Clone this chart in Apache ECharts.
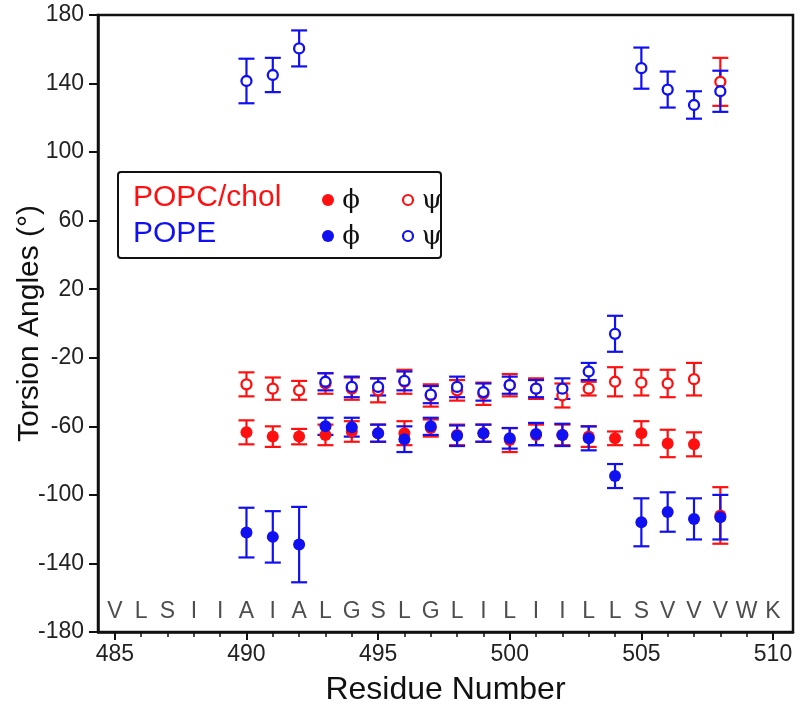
<!DOCTYPE html>
<html>
<head>
<meta charset="utf-8">
<script src="https://cdn.jsdelivr.net/npm/echarts@6/dist/echarts.min.js"></script>
<style>html,body{margin:0;padding:0;background:#fff;}#chart{width:800px;height:715px;}</style>
</head>
<body>
<div id="chart"></div>
<script>
// ---- data ----
var residues = [490,491,492,493,494,495,496,497,498,499,500,501,502,503,504,505,506,507,508];
var popcPhi    = [-63.5,-66,-66,-65,-63,-64,-64,-61,-65,-64,-68,-65,-65,-66,-67,-64,-70,-70.5,-112];
var popcPhiErr = [7,6,4.5,6,6,5,7,5,6,5,7,6,6,6,4,7,8,7,16.5];
var popcPsi    = [-35.5,-38,-39,-35,-38,-39,-34,-42,-39,-41,-36,-38,-42,-38,-34,-34.5,-35,-32.5,141];
var popcPsiErr = [7,6.5,5.5,6,6.5,7,7,6.5,6,6.5,6.5,6,7,4,8.5,7.5,8,9.5,14];
var popePhi    = [-122,-124.5,-129,-60,-60.5,-64,-67.5,-60,-65.5,-64,-67,-64.5,-65,-67,-89,-116,-110,-114,-113];
var popePhiErr = [14.5,15,22,5,5.5,5,7.5,5,6,5,6,6.5,6.5,7,7,14,11.5,12,13];
var popePsi    = [141.5,145,160.5,-34,-37,-37,-33.5,-41.5,-37,-40,-36,-38,-38,-28,-6,149,136.5,127.5,135.5];
var popePsiErr = [13,10,10.5,5,6,5,5.5,5,6,5,5,5,6,5,10.5,12,10.5,8,12];
var seqStart = 485;
var sequence = ['V','L','S','I','I','A','I','A','L','G','S','L','G','L','I','L','I','I','L','L','S','V','V','V','W','K'];
var seqY = -168;
var xTicks = [485,490,495,500,505,510];
var xMinorTicks = [];
for (var t = 485; t <= 510; t++) xMinorTicks.push(t);

var RED = '#ff1010';
var BLUE = '#1010f0';

function pts(vals){ return residues.map(function(r,i){ return [r, vals[i]]; }); }
function errs(vals, e){ return residues.map(function(r,i){ return [r, vals[i]-e[i], vals[i]+e[i]]; }); }

function errSeries(data, color){
  return {
    type: 'custom', xAxisIndex: 0, yAxisIndex: 0, data: data, silent: true,
    renderItem: function(params, api){
      var x = api.value(0), lo = api.value(1), hi = api.value(2);
      var p1 = api.coord([x, lo]), p2 = api.coord([x, hi]);
      var hw = 8;
      var st = {stroke: color, lineWidth: 2.2};
      return {type: 'group', children: [
        {type:'line', shape:{x1:p1[0],y1:p1[1],x2:p2[0],y2:p2[1]}, style: st},
        {type:'line', shape:{x1:p1[0]-hw,y1:p1[1],x2:p1[0]+hw,y2:p1[1]}, style: st},
        {type:'line', shape:{x1:p2[0]-hw,y1:p2[1],x2:p2[0]+hw,y2:p2[1]}, style: st}
      ]};
    },
    z: 2
  };
}
function filled(data, color){
  return {type:'scatter', data:data, symbol:'circle', symbolSize:12, itemStyle:{color:color, opacity:1}, z:3, silent:true};
}
function open(data, color){
  return {type:'scatter', data:data, symbol:'circle', symbolSize:10, itemStyle:{color:'#fff', borderColor:color, borderWidth:2.3, opacity:1}, z:3, silent:true};
}

var seqData = sequence.map(function(s,i){ return [seqStart+i, seqY, s]; });

var chart = echarts.init(document.getElementById('chart'));
chart.setOption({
  animation: false,
  backgroundColor: '#fff',
  grid: {left: 98, top: 15, width: 695, height: 617, show: true, borderColor: '#111', borderWidth: 2.5,
         backgroundColor: 'transparent', containLabel: false, outerBoundsMode: 'none'},
  xAxis: [{
    type: 'value', min: 484.36, max: 510.76, position: 'bottom',
    axisLine: {show: true, onZero: false, lineStyle: {color: '#111', width: 2.5}},
    axisTick: {show: true, customValues: xTicks, length: 8, lineStyle: {color: '#111', width: 2}},
    axisLabel: {show: true, customValues: xTicks, fontSize: 23, color: '#222', margin: 11, fontFamily: 'Liberation Sans'},
    splitLine: {show: false},
    name: 'Residue Number', nameLocation: 'middle', nameGap: 42, nameMoveOverlap: false,
    nameTextStyle: {fontSize: 32, color: '#111', fontFamily: 'Liberation Sans'}
  },{
    type: 'value', min: 484.36, max: 510.76, position: 'bottom',
    axisLine: {show: false, onZero: false},
    axisTick: {show: true, customValues: xMinorTicks, length: 5, lineStyle: {color: '#111', width: 1.5}},
    axisLabel: {show: false},
    splitLine: {show: false}
  }],
  yAxis: {
    type: 'value', min: -180, max: 180, interval: 40,
    axisLine: {show: true, onZero: false, lineStyle: {color: '#111', width: 2.5}},
    axisTick: {show: true, length: 9, lineStyle: {color: '#111', width: 2}},
    axisLabel: {fontSize: 23, color: '#222', margin: 14, fontFamily: 'Liberation Sans'},
    splitLine: {show: false},
    name: 'Torsion Angles (°)', nameLocation: 'middle', nameGap: 53, nameRotate: 90, nameMoveOverlap: false,
    nameTextStyle: {fontSize: 30, color: '#111', fontFamily: 'Liberation Sans'}
  },
  series: [
    errSeries(errs(popcPhi, popcPhiErr), RED),
    errSeries(errs(popcPsi, popcPsiErr), RED),
    filled(pts(popcPhi), RED),
    open(pts(popcPsi), RED),
    errSeries(errs(popePhi, popePhiErr), BLUE),
    errSeries(errs(popePsi, popePsiErr), BLUE),
    filled(pts(popePhi), BLUE),
    open(pts(popePsi), BLUE),
    {
      type: 'scatter', data: seqData, symbolSize: 1, itemStyle: {color: 'rgba(0,0,0,0)'}, silent: true,
      label: {show: true, position: 'inside', formatter: function(p){ return p.data[2]; },
        fontSize: 23, color: '#222', fontFamily: 'Liberation Sans'}
    }
  ],
  graphic: [
    {type: 'rect', shape: {x: 118, y: 172, width: 323, height: 86, r: 3}, style: {fill: '#fff', stroke: '#111', lineWidth: 2}, z: 10},
    {type: 'text', x: 133, y: 198, style: {text: 'POPC/chol', fill: RED, fontSize: 30, fontFamily: 'Liberation Sans', verticalAlign: 'middle'}, z: 11},
    {type: 'text', x: 133, y: 234, style: {text: 'POPE', fill: BLUE, fontSize: 30, fontFamily: 'Liberation Sans', verticalAlign: 'middle'}, z: 11},
    {type: 'circle', shape: {cx: 328, cy: 200, r: 6}, style: {fill: RED}, z: 11},
    {type: 'circle', shape: {cx: 328, cy: 236, r: 6}, style: {fill: BLUE}, z: 11},
    {type: 'circle', shape: {cx: 408, cy: 200, r: 5}, style: {fill: '#fff', stroke: RED, lineWidth: 2.2}, z: 11},
    {type: 'circle', shape: {cx: 408, cy: 236, r: 5}, style: {fill: '#fff', stroke: BLUE, lineWidth: 2.2}, z: 11},
    {type: 'text', x: 351, y: 201, style: {text: 'ϕ', fill: '#111', fontSize: 26, fontFamily: 'DejaVu Serif', align: 'center', verticalAlign: 'middle'}, z: 11},
    {type: 'text', x: 351, y: 237, style: {text: 'ϕ', fill: '#111', fontSize: 26, fontFamily: 'DejaVu Serif', align: 'center', verticalAlign: 'middle'}, z: 11},
    {type: 'text', x: 432, y: 201, style: {text: 'ψ', fill: '#111', fontSize: 26, fontFamily: 'DejaVu Serif', align: 'center', verticalAlign: 'middle'}, z: 11},
    {type: 'text', x: 432, y: 237, style: {text: 'ψ', fill: '#111', fontSize: 26, fontFamily: 'DejaVu Serif', align: 'center', verticalAlign: 'middle'}, z: 11}
  ]
});
</script>
</body>
</html>
